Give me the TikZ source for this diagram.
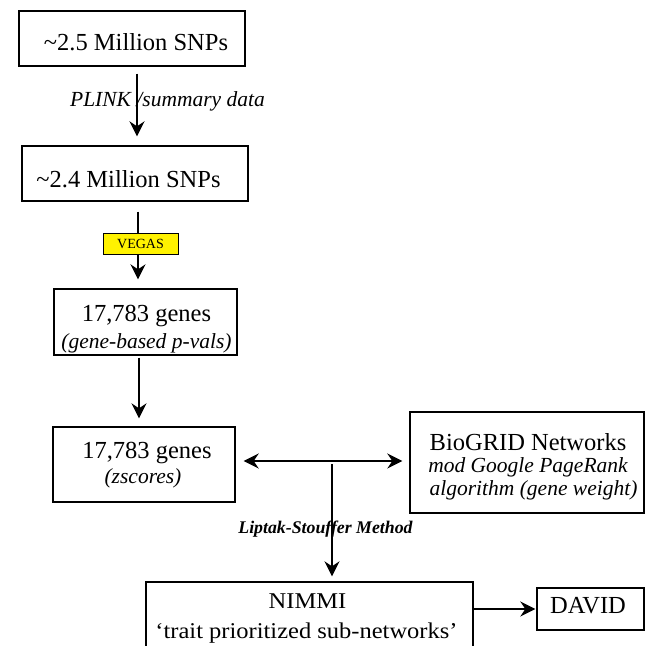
\documentclass[tikz,border=0pt]{standalone}
\usepackage{fontspec}
\setmainfont{Liberation Serif}
\usetikzlibrary{arrows.meta}
\newcommand\szBig{\fontsize{24.5}{28}\selectfont}
\newcommand\szIt{\fontsize{21.5}{25}\selectfont\itshape}
\newcommand\szVeg{\fontsize{14}{16}\selectfont}
\newcommand\szLip{\fontsize{17.8}{20}\selectfont\bfseries\itshape}
\begin{document}
\begin{tikzpicture}[x=1pt,y=-1pt,
  box/.style={draw, line width=1.4pt, inner sep=0pt},
  txt/.style={anchor=base, inner sep=0pt},
  tip/.style={Stealth[length=15pt,width=15pt,inset=5pt]},
  arr/.style={-{Stealth[length=15pt,width=15pt,inset=5pt]}, line width=1.8pt},
  darr/.style={{Stealth[length=15pt,width=15pt,inset=5pt]}-{Stealth[length=15pt,width=15pt,inset=5pt]}, line width=1.8pt}]
\useasboundingbox (0,0) rectangle (646,646);
\clip (0,0) rectangle (646,646);

% boxes
\node[box, minimum width=226pt, minimum height=55pt] (b1) at (132,38.5) {};
\node[box, minimum width=226pt, minimum height=55pt] (b2) at (135,173.5) {};
\node[box, minimum width=183pt, minimum height=66pt] (b3) at (145.5,322) {};
\node[box, minimum width=182pt, minimum height=75pt] (b4) at (144,464.5) {};
\node[box, minimum width=234pt, minimum height=101pt] (bio) at (527,462.5) {};
\node[box, minimum width=327pt, minimum height=78pt] (nimmi) at (309.5,621) {};
\node[box, minimum width=107pt, minimum height=42pt] (david) at (590.5,609) {};

% texts
\node[txt, font=\szBig] (t1) at (136,50) {\textasciitilde2.5 Million SNPs};
\node[txt, font=\szBig] (t2) at (128.5,187) {\textasciitilde2.4 Million SNPs};
\node[txt, font=\szBig] (t3a) at (146.5,321) {17,783 genes};
\node[txt, font=\szIt] (t3b) at (146.5,348) {(gene-based p-vals)};
\node[txt, font=\szBig] (t4a) at (147,458) {17,783 genes};
\node[txt, font=\szIt] (t4b) at (143,483) {(zscores)};
\node[txt, font=\szBig] (tba) at (528,450) {BioGRID Networks};
\node[txt, font=\szIt] (tbb) at (528,472) {mod Google PageRank};
\node[txt, font=\szIt] (tbc) at (533.5,495) {algorithm (gene weight)};
\node[txt, font=\szBig] (tna) at (307.5,608) {\scalebox{1}[0.92]{NIMMI}};
\node[txt, font=\szBig] (tnb) at (306.5,638) {\scalebox{1}[0.92]{‘trait prioritized sub-networks’}};
\node[txt, font=\szBig] (td) at (588,613) {DAVID};

% connectors
\coordinate (x1) at (137,0);
\coordinate (x2) at (138,0);
\coordinate (x3) at (139,0);
\coordinate (y1) at (0,461);
\coordinate (y2) at (0,609);
\coordinate (m) at (332,464);

\draw[arr, shorten <=7pt, shorten >=9pt] (b1.south -| x1) -- (b2.north -| x1);
\node[txt, font=\szIt] (lp) at (167.5,106) {PLINK /summary data};
\draw[arr, shorten <=10pt, shorten >=9pt] (b2.south -| x2) -- (b3.north -| x2);
\node[draw, line width=1pt, fill=yellow, inner sep=0pt, minimum width=75pt, minimum height=21pt, font=\szVeg] (veg) at (140.5,243.5) {VEGAS};
\draw[arr, shorten <=2pt, shorten >=8pt] (b3.south -| x3) -- (b4.north -| x3);
\draw[darr, shorten <=8pt, shorten >=7pt] (b4.east |- y1) -- (bio.west |- y1);
\draw[arr, shorten >=5pt] (m) -- (nimmi.north -| m);
\node[txt, font=\szLip] (lip) at (325.5,533) {Liptak-Stouffer Method};
\draw[arr, shorten >=1pt] (nimmi.east |- y2) -- (david.west |- y2);
\end{tikzpicture}
\end{document}
